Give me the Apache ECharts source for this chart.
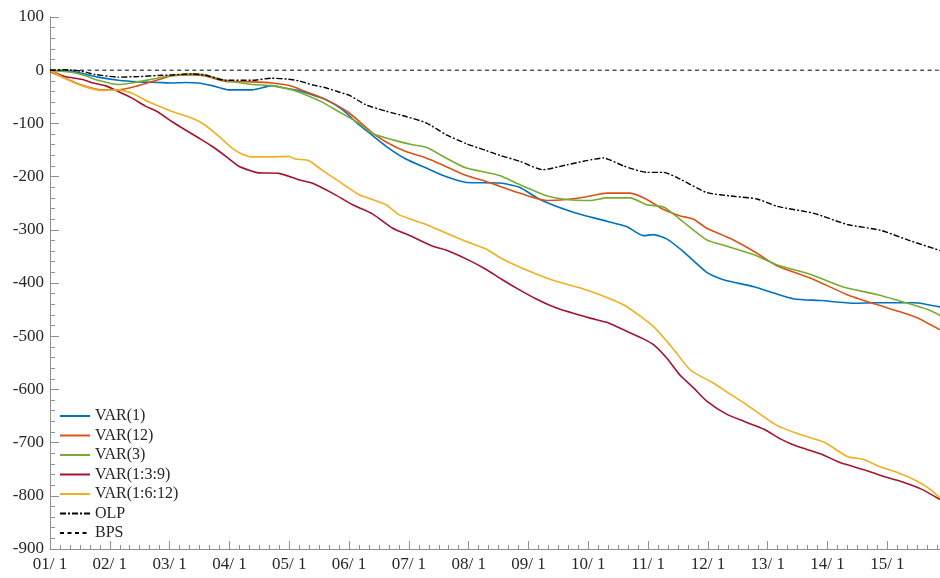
<!DOCTYPE html>
<html>
<head>
<meta charset="utf-8">
<script src="https://cdn.jsdelivr.net/npm/echarts@6/dist/echarts.min.js"></script>
<style>
html,body{margin:0;padding:0;background:#fff;}
#chart{width:940px;height:578px;}
</style>
</head>
<body>
<div id="chart"></div>
<script>
// x tick labels (month index 0..14)
const xTickLabels = ['01/ 1','02/ 1','03/ 1','04/ 1','05/ 1','06/ 1','07/ 1','08/ 1','09/ 1','10/ 1','11/ 1','12/ 1','13/ 1','14/ 1','15/ 1'];
const seriesNames = ['VAR(1)','VAR(12)','VAR(3)','VAR(1:3:9)','VAR(1:6:12)','OLP','BPS'];

// [month position, value]
const var1 = [[0,0],[0.36,-2],[0.58,-7],[0.8,-13],[1.14,-19],[1.48,-22],[1.81,-23],[2.03,-24],[2.26,-23],[2.48,-24],[2.71,-29],[2.99,-37],[3.38,-37],[3.71,-29],[3.94,-34],[4.16,-38],[4.4,-47],[4.61,-55],[4.89,-74],[5.17,-103],[5.34,-118],[5.62,-143],[5.95,-167],[6.29,-184],[6.62,-200],[6.96,-211],[7.52,-212],[7.85,-220],[8.19,-243],[8.75,-267],[9.31,-284],[9.64,-294],[9.92,-311],[10.09,-309],[10.31,-317],[10.59,-341],[10.98,-380],[11.26,-394],[11.77,-407],[12.1,-419],[12.44,-430],[12.89,-433],[13.45,-438],[13.78,-437],[14.45,-437],[14.88,-445]];
const var12 = [[0,-3],[0.25,-15],[0.5,-27],[0.86,-37],[1.14,-37],[1.48,-29],[1.81,-18],[2.03,-11],[2.37,-9],[2.59,-11],[2.93,-21],[3.38,-22],[3.71,-24],[4.05,-30],[4.27,-40],[4.55,-52],[4.83,-68],[5.0,-80],[5.17,-96],[5.39,-118],[5.62,-135],[5.95,-153],[6.29,-165],[6.62,-181],[6.96,-198],[7.29,-209],[7.52,-218],[7.85,-231],[8.3,-245],[8.64,-243],[8.97,-238],[9.31,-231],[9.7,-231],[9.98,-243],[10.26,-262],[10.54,-274],[10.76,-280],[10.98,-297],[11.37,-316],[11.82,-344],[12.16,-368],[12.72,-391],[13.33,-422],[13.78,-439],[14.45,-463],[14.88,-488]];
const var3 = [[0,0],[0.36,-4],[0.58,-10],[0.8,-19],[1.14,-27],[1.36,-24],[1.7,-17],[2.03,-10],[2.37,-7],[2.59,-9],[2.93,-19],[3.38,-27],[3.71,-29],[4.05,-37],[4.27,-46],[4.55,-60],[4.83,-78],[5.17,-100],[5.39,-119],[5.73,-131],[6.06,-140],[6.29,-145],[6.62,-165],[6.96,-184],[7.29,-192],[7.52,-198],[7.85,-215],[8.3,-236],[8.64,-243],[9.03,-245],[9.31,-240],[9.7,-240],[9.98,-253],[10.26,-257],[10.54,-281],[10.98,-319],[11.32,-331],[11.77,-347],[12.16,-366],[12.72,-384],[13.28,-408],[13.84,-422],[14.34,-438],[14.68,-450],[14.88,-461]];
const var139 = [[0,0],[0.245,-12],[0.53,-17],[0.69,-23],[0.92,-29],[1.14,-40],[1.365,-52],[1.59,-67],[1.81,-79],[2.03,-96],[2.26,-112],[2.48,-127],[2.71,-143],[2.93,-161],[3.15,-180],[3.38,-190],[3.49,-193],[3.83,-194],[4.16,-206],[4.38,-212],[4.72,-231],[5.06,-253],[5.39,-270],[5.73,-297],[6.06,-313],[6.4,-331],[6.62,-338],[7.0,-357],[7.3,-375],[7.55,-393],[7.85,-413],[8.13,-430],[8.47,-447],[9.03,-466],[9.31,-474],[9.59,-488],[9.92,-505],[10.09,-516],[10.31,-541],[10.54,-574],[10.76,-597],[10.98,-622],[11.32,-647],[11.65,-662],[11.94,-675],[12.21,-693],[12.49,-707],[12.88,-721],[13.22,-738],[13.61,-751],[13.89,-762],[14.23,-773],[14.56,-787],[14.88,-807]];
const var1612 = [[0,0],[0.245,-15],[0.53,-29],[0.86,-38],[1.14,-37],[1.365,-43],[1.64,-59],[2.03,-77],[2.37,-90],[2.59,-103],[2.82,-124],[3.04,-146],[3.2,-157],[3.38,-163],[3.71,-163],[3.99,-162],[4.1,-167],[4.33,-170],[4.55,-188],[4.83,-209],[5.17,-234],[5.39,-243],[5.62,-253],[5.84,-272],[6.29,-290],[6.62,-306],[6.96,-322],[7.29,-336],[7.52,-352],[7.85,-370],[8.41,-395],[8.97,-413],[9.59,-441],[10.09,-482],[10.43,-525],[10.71,-564],[11.09,-588],[11.32,-605],[11.65,-629],[12.16,-668],[12.55,-685],[12.94,-699],[13.33,-726],[13.61,-732],[13.89,-746],[14.17,-756],[14.51,-773],[14.73,-789],[14.88,-804]];
const olp = [[0,0],[0.245,1],[0.53,-2],[0.75,-8],[1.14,-13],[1.48,-12],[1.81,-10],[2.03,-9],[2.37,-7],[2.59,-9],[2.93,-19],[3.38,-19],[3.71,-15],[3.99,-17],[4.16,-20],[4.4,-28],[4.61,-33],[4.83,-41],[5.0,-47],[5.28,-65],[5.62,-77],[5.95,-87],[6.29,-99],[6.62,-121],[6.96,-138],[7.29,-151],[7.52,-160],[7.85,-171],[8.24,-187],[8.64,-178],[8.97,-170],[9.25,-165],[9.59,-180],[9.98,-192],[10.26,-192],[10.54,-205],[10.98,-230],[11.43,-237],[11.82,-242],[12.16,-256],[12.77,-269],[13.33,-290],[13.89,-301],[14.34,-319],[14.88,-339]];
const bps = [[0,0],[14.88,0]];

const seriesData = [var1, var12, var3, var139, var1612, olp, bps];
const colors = ['#0072BD','#D95319','#77AC30','#A2142F','#EDB120','#000000','#000000'];
const dashes = ['solid','solid','solid','solid','solid',[6,2,2,2],[4,3.5]];
const widths = [1.6,1.6,1.6,1.6,1.6,1.4,1];

const FONT = '"Liberation Serif", "Times New Roman", serif';
const AXC = '#8f8f8f';

const chart = echarts.init(document.getElementById('chart'), null, {renderer:'canvas'});
chart.setOption({
  animation: false,
  backgroundColor: '#fff',
  grid: {left: 50, right: 0, top: 17, bottom: 29, containLabel: false},
  legend: {
    orient: 'vertical', left: 54, top: 403,
    itemWidth: 30, itemHeight: 14, itemGap: 3.5,
    itemStyle: {opacity: 0, borderWidth: 0},
    textStyle: {fontFamily: FONT, fontSize: 16, color: '#262626'},
    data: seriesNames
  },
  xAxis: {
    type: 'value', min: 0, max: 14.88, interval: 1,
    axisLine: {show: true, onZero: false, lineStyle: {color: AXC, width: 1}},
    axisTick: {show: true, inside: true, length: 8, lineStyle: {color: AXC}},
    minorTick: {show: true, splitNumber: 6, length: 4, lineStyle: {color: AXC}},
    splitLine: {show: false},
    axisLabel: {
      fontFamily: FONT, fontSize: 17, color: '#262626', margin: 7,
      showMaxLabel: false,
      formatter: function (v) {
        const r = Math.round(v);
        return Math.abs(v - r) < 1e-6 && xTickLabels[r] !== undefined ? xTickLabels[r] : '';
      }
    }
  },
  yAxis: {
    type: 'value', min: -900, max: 100, interval: 100,
    axisLine: {show: true, onZero: false, lineStyle: {color: AXC, width: 1}},
    axisTick: {show: true, inside: true, length: 9, lineStyle: {color: AXC}},
    minorTick: {show: true, splitNumber: 5, length: 5, lineStyle: {color: AXC}},
    splitLine: {show: false},
    axisLabel: {fontFamily: FONT, fontSize: 17, color: '#262626', margin: 6}
  },
  series: seriesNames.map((name, i) => ({
    name: name,
    type: 'line',
    data: seriesData[i],
    symbol: 'none',
    smooth: 0.2,
    color: colors[i],
    lineStyle: {color: colors[i], width: widths[i], type: dashes[i]},
    z: 2 + i
  }))
});
</script>
</body>
</html>
